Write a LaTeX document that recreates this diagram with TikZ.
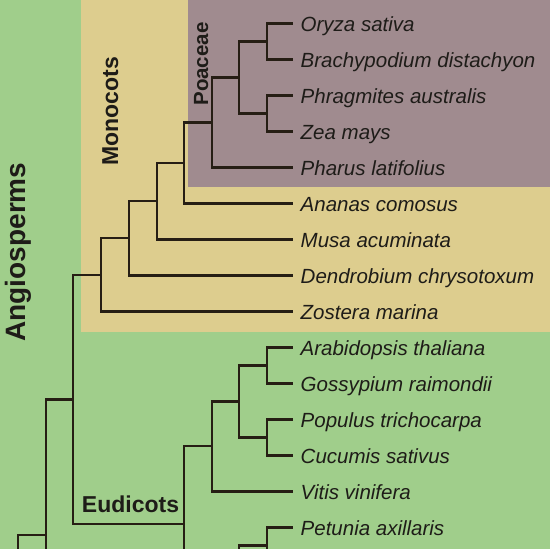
\documentclass[tikz,border=0pt]{standalone}
\usepackage{fontspec}
\setmainfont{Liberation Sans}
\definecolor{bggreen}{RGB}{160,206,139}
\definecolor{bgtan}{RGB}{221,205,142}
\definecolor{bgmauve}{RGB}{160,139,143}
\definecolor{branch}{RGB}{38,30,20}
\definecolor{ink}{RGB}{30,28,24}
\tikzset{
  leaf/.style={anchor=west, inner xsep=7.5pt, inner ysep=0pt, text height=15pt, text depth=0pt,
    font=\fontsize{20.5}{24}\selectfont\itshape, text=ink},
  br/.style={draw=branch, line width=2.2pt, line join=miter},
  clade/.style={inner sep=0pt, text=ink, font=\bfseries\fontsize{23}{26}\selectfont},
}
\begin{document}
\begin{tikzpicture}[x=1pt,y=-1pt]
\useasboundingbox (0,0) rectangle (550,549);
\fill[bggreen] (0,0) rectangle (550,549);
\fill[bgtan] (81,0) rectangle (550,331.5);
\fill[bgmauve] (188,0) rectangle (550,186.5);
\clip (0,0) rectangle (550,549);
% leaves
\foreach \nm/\txt [count=\i from 0] in {oryza/Oryza sativa, brachy/Brachypodium distachyon,
  phrag/Phragmites australis, zea/Zea mays, pharus/Pharus latifolius, ananas/Ananas comosus,
  musa/Musa acuminata, dendro/Dendrobium chrysotoxum, zostera/Zostera marina,
  arabid/Arabidopsis thaliana, gossyp/Gossypium raimondii, populus/Populus trichocarpa,
  cucumis/Cucumis sativus, vitis/Vitis vinifera, petunia/Petunia axillaris}
  \node[leaf] (\nm) at (293,23.5+36*\i) {\txt};
% internal nodes
\coordinate (a) at (267,41.5);
\coordinate (b) at (267,113.5);
\coordinate (c) at (239,77.5);
\coordinate (d) at (212,122.5);
\coordinate (e) at (184,163);
\coordinate (f) at (157,201);
\coordinate (g) at (129,238);
\coordinate (h) at (101,275);
\coordinate (i) at (73,399.5);
\coordinate (j) at (46,535);
\coordinate (E) at (184,524);
\coordinate (u) at (212,446);
\coordinate (v) at (239,401.5);
\coordinate (w1) at (267,365.5);
\coordinate (w2) at (267,437.5);
\coordinate (p) at (267,545.5);
\coordinate (jb) at (46,555);
\coordinate (kb) at (18,555);
\coordinate (Eb) at (184,555);
\coordinate (pb) at (267,555);
\coordinate (qb) at (239,555);
% branches
\draw[br] (a) |- (oryza.west);
\draw[br] (a) |- (brachy.west);
\draw[br] (b) |- (phrag.west);
\draw[br] (b) |- (zea.west);
\draw[br] (c) |- (a);
\draw[br] (c) |- (b);
\draw[br] (d) |- (c);
\draw[br] (d) |- (pharus.west);
\draw[br] (e) |- (d);
\draw[br] (e) |- (ananas.west);
\draw[br] (f) |- (e);
\draw[br] (f) |- (musa.west);
\draw[br] (g) |- (f);
\draw[br] (g) |- (dendro.west);
\draw[br] (h) |- (g);
\draw[br] (h) |- (zostera.west);
\draw[br] (i) |- (h);
\draw[br] (i) |- (E);
\draw[br] (j) |- (i);
\draw[br] (j) -- (jb);
\draw[br] (kb) |- (j);
\draw[br] (E) |- (u);
\draw[br] (E) -- (Eb);
\draw[br] (u) |- (v);
\draw[br] (u) |- (vitis.west);
\draw[br] (v) |- (w1);
\draw[br] (v) |- (w2);
\draw[br] (w1) |- (arabid.west);
\draw[br] (w1) |- (gossyp.west);
\draw[br] (w2) |- (populus.west);
\draw[br] (w2) |- (cucumis.west);
\draw[br] (p) |- (petunia.west);
\draw[br] (p) -- (pb);
\draw[br] (qb) |- (p);
% clade labels
\node[clade, font=\bfseries\fontsize{28}{32}\selectfont, rotate=90, anchor=base] (angio) at (26,252) {Angiosperms};
\node[clade, rotate=90, anchor=base] (mono) at (118,111.5) {Monocots};
\node[clade, font=\bfseries\fontsize{20.5}{24}\selectfont, rotate=90, anchor=base] (poa) at (208,64) {Poaceae};
\node[clade, anchor=base] (eudi) at (130.5,512) {Eudicots};
\end{tikzpicture}
\end{document}
